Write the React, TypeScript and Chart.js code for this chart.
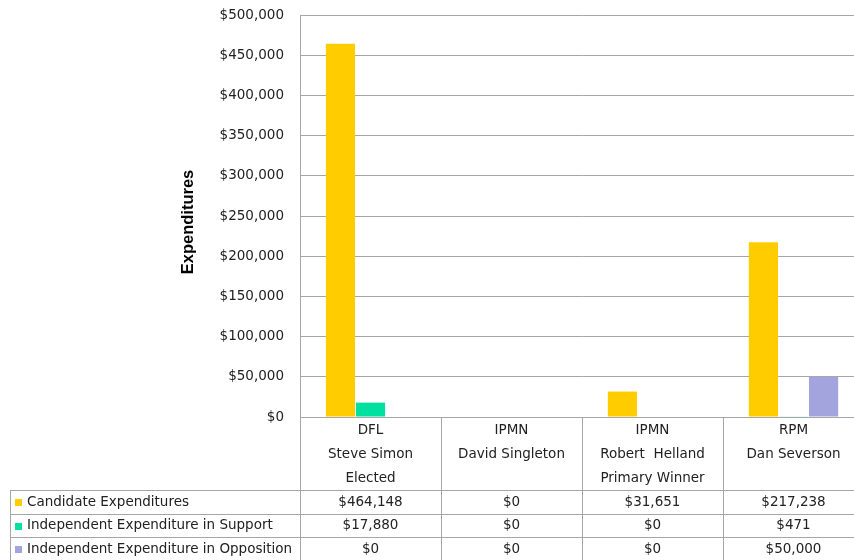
import React, { useEffect, useRef } from "react";
import { Chart, registerables } from "chart.js";

Chart.register(...registerables);

const parties = ["DFL", "IPMN", "IPMN", "RPM"];
const candidates = ["Steve Simon", "David Singleton", "Robert  Helland", "Dan Severson"];
const notes = ["Elected", "", "Primary Winner", ""];
const seriesNames = [
  "Candidate Expenditures",
  "Independent Expenditure in Support",
  "Independent Expenditure in Opposition",
];
const candidateExp = [464148, 0, 31651, 217238];
const ieSupport = [17880, 0, 0, 471];
const ieOpposition = [0, 0, 0, 50000];
const seriesColors = ["#FFCC00", "#00E0A0", "#A3A3DE"];
const yTicksMax = 500000;
const yTicksStep = 50000;
const yTitle = "Expenditures";

const FONT = "'DejaVu Sans', sans-serif";
const FS = 13.5;
const LINE = "#a6a6a6";
const TEXT = "#222222";

const fmt = (v: number) => "$" + v.toLocaleString("en-US");

const tablePlugin = {
  id: "tablePlugin",
  afterDraw(chart: any) {
    const ctx = chart.ctx as CanvasRenderingContext2D;
    const area = chart.chartArea;
    const xs = chart.scales.x;
    const n = parties.length;
    const w = (xs.right - xs.left) / n;
    const base = area.bottom;
    const right = chart.width;
    const tableLeft = 10;
    const rowTop = base + 73;
    const rowH = 23.5;
    const data = [candidateExp, ieSupport, ieOpposition];

    ctx.save();
    ctx.font = `bold 16.5px 'Liberation Sans', Arial, sans-serif`;
    ctx.fillStyle = "#000";
    ctx.textAlign = "center";
    ctx.textBaseline = "middle";
    ctx.translate(188, (area.top + area.bottom) / 2 + 6);
    ctx.rotate(-Math.PI / 2);
    ctx.fillText(yTitle, 0, 0);
    ctx.restore();

    ctx.save();
    ctx.strokeStyle = LINE;
    ctx.lineWidth = 1;
    ctx.beginPath();
    ctx.moveTo(xs.left, Math.round(base) + 0.5);
    ctx.lineTo(right, Math.round(base) + 0.5);
    for (let r = 0; r <= 3; r++) {
      const y = Math.round(rowTop + r * rowH) + 0.5;
      ctx.moveTo(tableLeft, y);
      ctx.lineTo(right, y);
    }
    ctx.moveTo(tableLeft + 0.5, Math.round(rowTop));
    ctx.lineTo(tableLeft + 0.5, chart.height);
    for (let i = 0; i <= n; i++) {
      const x = Math.round(xs.left + i * w) + 0.5;
      ctx.moveTo(x, base);
      ctx.lineTo(x, chart.height);
    }
    ctx.stroke();

    ctx.font = `${FS}px ${FONT}`;
    ctx.fillStyle = TEXT;
    ctx.textBaseline = "middle";
    ctx.textAlign = "center";
    for (let i = 0; i < n; i++) {
      const cx = xs.left + i * w + w / 2;
      ctx.fillText(parties[i], cx, base + 13);
      ctx.fillText(candidates[i], cx, base + 37);
      if (notes[i]) ctx.fillText(notes[i], cx, base + 61);
    }
    for (let r = 0; r < 3; r++) {
      const cy = rowTop + r * rowH + rowH / 2 + 0.5;
      ctx.fillStyle = seriesColors[r];
      ctx.fillRect(15, Math.round(cy) - 3, 7, 7);
      ctx.fillStyle = TEXT;
      ctx.textAlign = "left";
      ctx.fillText(seriesNames[r], 27, cy);
      ctx.textAlign = "center";
      for (let i = 0; i < n; i++) {
        const cx = xs.left + i * w + w / 2;
        ctx.fillText(fmt(data[r][i]), cx, cy);
      }
    }
    ctx.restore();
  },
};

export default function App() {
  const ref = useRef<HTMLCanvasElement>(null);
  useEffect(() => {
    if (!ref.current) return;
    const chart = new Chart(ref.current, {
      type: "bar",
      data: {
        labels: candidates,
        datasets: [
          { label: seriesNames[0], data: candidateExp, backgroundColor: seriesColors[0] },
          { label: seriesNames[1], data: ieSupport, backgroundColor: seriesColors[1] },
          { label: seriesNames[2], data: ieOpposition, backgroundColor: seriesColors[2] },
        ],
      },
      options: {
        responsive: false,
        animation: false,
        layout: { padding: { left: 0, right: 2, top: 15, bottom: 143 } },
        datasets: { bar: { categoryPercentage: 0.64, barPercentage: 0.97 } },
        plugins: { legend: { display: false }, tooltip: { enabled: false } },
        scales: {
          x: { display: false },
          y: {
            min: 0,
            max: yTicksMax,
            afterFit: (s: any) => {
              s.width = 300;
              s.paddingTop = 0;
              s.paddingBottom = 0;
            },
            ticks: {
              stepSize: yTicksStep,
              padding: 16,
              color: TEXT,
              font: { family: FONT, size: FS },
              callback: (v: any) => fmt(Number(v)),
            },
            grid: { color: LINE, drawTicks: false },
            border: { display: true, color: LINE },
          },
        },
      },
      plugins: [tablePlugin],
    });
    return () => chart.destroy();
  }, []);
  return (
    <div
      style={{
        position: "fixed",
        left: 0,
        top: 0,
        width: 854,
        height: 560,
        overflow: "hidden",
        background: "#fff",
      }}
    >
      <canvas ref={ref} width={866} height={560} style={{ display: "block" }} />
    </div>
  );
}
